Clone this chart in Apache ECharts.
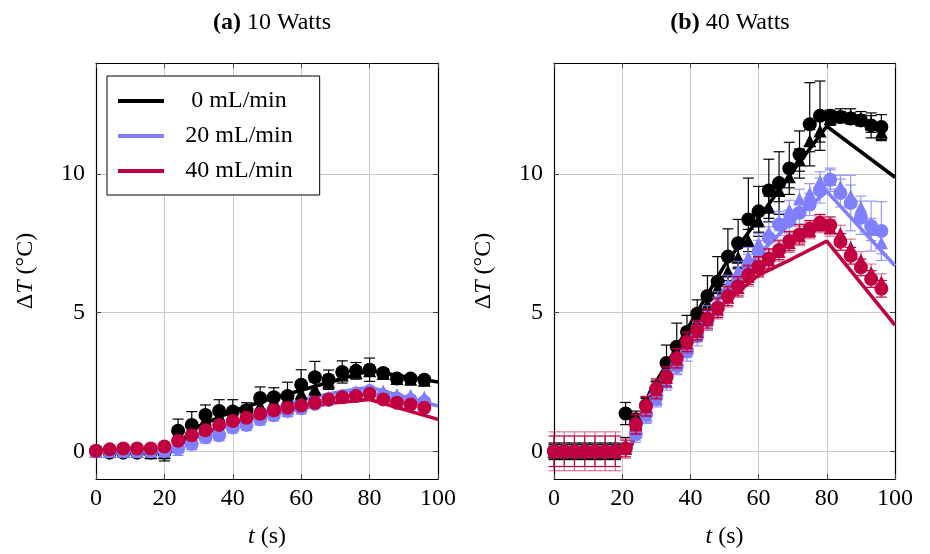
<!DOCTYPE html>
<html><head><meta charset="utf-8">
<script src="https://cdn.jsdelivr.net/npm/echarts@6/dist/echarts.min.js"></script>
<style>html,body{margin:0;padding:0;background:#fff}#c{width:930px;height:554px}</style>
</head><body><div id="c"></div><script>
// ---------- data ----------
const flowNames = ['0 mL/min', '20 mL/min', '40 mL/min'];
const xTicks = [0, 20, 40, 60, 80, 100];
const yTicks = [0, 5, 10];

// Panel (a) 10 Watts, measurements every 4 s
const tA = [0,4,8,12,16,20,24,28,32,36,40,44,48,52,56,60,64,68,72,76,80,84,88,92,96];
const a0Circ = [0,-0.05,-0.05,-0.05,-0.05,-0.05,0.74,0.95,1.31,1.45,1.43,1.48,1.92,1.95,1.99,2.40,2.67,2.58,2.86,2.90,2.94,2.82,2.62,2.62,2.58];
const a0CircErr = [0.1,0.1,0.1,0.1,0.1,0.3,0.42,0.48,0.36,0.41,0.43,0.27,0.4,0.34,0.5,0.54,0.57,0.35,0.4,0.3,0.42,0.15,0.12,0.12,0.12];
const a0Tri = [0,0,0,0,-0.05,-0.05,0.6,0.85,1.15,1.3,1.38,1.45,1.65,1.8,1.92,2.1,2.25,2.5,2.75,2.85,2.9,2.8,2.62,2.6,2.56];
const a0TriErr = [0.1,0.1,0.1,0.1,0.1,0.1,0.2,0.2,0.2,0.2,0.2,0.2,0.2,0.2,0.2,0.25,0.25,0.25,0.2,0.2,0.2,0.15,0.12,0.12,0.12];
const a1Circ = [0,0,0,0,0,0.02,0.1,0.26,0.5,0.58,0.86,0.95,1.15,1.3,1.45,1.55,1.7,1.85,1.98,2.08,2.17,2.0,1.9,1.85,1.78];
const a1CircErr = [0.08,0.08,0.08,0.08,0.08,0.1,0.25,0.2,0.2,0.2,0.2,0.2,0.2,0.2,0.2,0.2,0.15,0.15,0.15,0.15,0.15,0.15,0.15,0.15,0.15];
const a1Tri = [0,0,0,0,0,0,0.15,0.4,0.6,0.75,0.95,1.1,1.25,1.4,1.55,1.7,1.8,1.95,2.05,2.15,2.25,2.17,2.05,2.02,1.95];
const a2Circ = [0.02,0.07,0.1,0.1,0.1,0.17,0.38,0.58,0.76,0.95,1.09,1.21,1.35,1.48,1.57,1.65,1.75,1.87,1.95,1.99,2.07,1.87,1.75,1.69,1.57];
const a2CircErr = [0.08,0.08,0.08,0.08,0.08,0.08,0.08,0.08,0.08,0.08,0.08,0.08,0.08,0.08,0.08,0.08,0.08,0.08,0.08,0.08,0.08,0.08,0.08,0.08,0.08];
// model lines (a)
const lineAt = [0,22,25,30,40,50,60,70,80,100];
const a0Line = [0,0,0.4,0.9,1.45,1.85,2.2,2.55,2.9,2.5];
const a1Line = [0,0,0.25,0.55,1.0,1.45,1.85,2.12,2.31,1.63];
const a2Line = [0,0,0.3,0.6,1.0,1.32,1.55,1.75,1.87,1.15];

// Panel (b) 40 Watts, measurements every 3 s
const tB = [0,3,6,9,12,15,18,21,24,27,30,33,36,39,42,45,48,51,54,57,60,63,66,69,72,75,78,81,84,87,90,93,96];
const b0Circ = [0,0,0,0,0,0,0,1.36,1.15,1.65,2.23,3.18,3.77,4.3,4.96,5.6,6.12,7.02,7.5,8.36,8.65,9.4,9.67,10.2,10.7,11.79,12.1,12.1,12.05,12.0,11.93,11.75,11.69];
const b0CircErr = [0.3,0.3,0.3,0.3,0.3,0.3,0.3,0.4,0.3,0.3,0.3,0.65,0.85,0.6,0.5,0.73,0.9,1.0,0.86,1.49,0.9,1.13,1.13,0.94,0.85,1.5,1.25,0.2,0.2,0.2,0.2,0.45,0.45];
const b0Tri = [0,0,0,0,0,0,0,0.2,1.0,1.6,2.2,2.9,3.5,4.1,4.7,5.3,5.9,6.5,7.0,7.6,8.3,8.8,9.4,9.9,10.5,11.2,11.55,12.0,12.1,12.1,12.0,11.8,11.5];
const b0TriErr = [0.25,0.25,0.25,0.25,0.25,0.25,0.25,0.3,0.3,0.3,0.3,0.3,0.3,0.35,0.35,0.35,0.35,0.35,0.4,0.4,0.4,0.4,0.4,0.4,0.4,0.4,0.4,0.25,0.25,0.25,0.25,0.3,0.3];
const b1Circ = [0,0,0,0,0,0,0,0.1,0.62,1.33,1.95,2.64,3.06,3.6,4.15,4.7,5.2,5.7,6.2,6.7,7.2,7.7,8.18,8.3,8.6,8.9,9.4,9.79,9.31,8.95,8.42,8.12,7.94];
const b1CircErr = [0.2,0.2,0.2,0.2,0.2,0.2,0.2,0.2,0.3,0.3,0.3,0.3,0.3,0.35,0.35,0.35,0.35,0.35,0.35,0.4,0.4,0.4,0.4,0.4,0.4,0.4,0.45,0.42,0.5,1.0,0.6,0.9,1.06];
const b1Tri = [0,0,0,0,0,0,0,0.1,0.7,1.3,1.9,2.5,3.1,3.7,4.3,4.9,5.4,6.0,6.5,7.0,7.5,7.9,8.3,8.7,9.1,9.3,9.73,9.8,9.55,9.2,8.8,8.0,7.52];
const b1TriErr = [0.2,0.2,0.2,0.2,0.2,0.2,0.2,0.2,0.3,0.3,0.3,0.3,0.3,0.3,0.35,0.35,0.35,0.35,0.35,0.35,0.35,0.35,0.35,0.35,0.35,0.35,0.35,0.35,0.4,0.4,0.4,0.4,0.4];
const b2Circ = [0,0,0,0,0,0,0,0.1,0.98,1.63,2.26,2.7,3.36,3.95,4.37,4.79,5.17,5.6,5.95,6.36,6.67,6.95,7.26,7.58,7.82,8.02,8.24,8.15,7.55,7.05,6.63,6.21,5.86];
const b2CircErr = [0.55,0.55,0.55,0.55,0.55,0.55,0.55,0.3,0.35,0.35,0.35,0.35,0.35,0.35,0.35,0.35,0.35,0.35,0.35,0.35,0.35,0.35,0.35,0.35,0.35,0.3,0.3,0.3,0.3,0.3,0.3,0.3,0.3];
const b2Tri = [0,0,0,0,0,0,0,0.1,0.95,1.6,2.22,2.66,3.32,3.9,4.32,4.74,5.12,5.55,5.9,6.3,6.62,6.9,7.2,7.52,7.76,7.96,8.18,8.05,7.85,7.35,6.9,6.45,6.1];
const b2TriErr = [0.7,0.7,0.7,0.7,0.7,0.7,0.7,0.35,0.35,0.35,0.35,0.35,0.35,0.35,0.35,0.35,0.35,0.35,0.35,0.35,0.35,0.35,0.35,0.35,0.35,0.3,0.3,0.3,0.3,0.3,0.3,0.3,0.3];
// model lines (b)
const lineBt = [0,22,25,28,35,40,50,60,70,80,100];
const b0Line = [0,0,1.0,2.1,3.55,4.6,6.7,8.4,10.1,11.72,9.88];
const b1Line = [0,0,1.0,2.0,3.3,4.2,5.8,7.1,8.3,9.37,6.69];
const b2Line = [0,0,1.0,1.9,3.2,4.1,5.35,6.35,6.95,7.58,4.55];

// ---------- style ----------
const FONT = 'Liberation Serif';
const colors = ['#000000', '#8080ff', '#c0003f'];

const chart = echarts.init(document.getElementById('c'), null, {renderer: 'canvas'});

function zip(t, v) { return t.map((ti, i) => [ti, v[i]]); }

function lineSeries(name, t, v, color, ax) {
  return {name, type: 'line', xAxisIndex: ax, yAxisIndex: ax, data: zip(t, v),
    showSymbol: false, symbol: 'none', lineStyle: {color, width: 3.6}, itemStyle: {color},
    z: 3, silent: true};
}
function markSeries(name, t, v, color, symbol, size, ax, z) {
  return {name, type: 'scatter', xAxisIndex: ax, yAxisIndex: ax, data: zip(t, v),
    symbol, symbolSize: size, itemStyle: {color, opacity: 1}, z, silent: true};
}
function errSeries(name, t, v, e, color, ax, opacity, z) {
  return {name, type: 'custom', xAxisIndex: ax, yAxisIndex: ax, z, silent: true,
    data: t.map((ti, i) => [ti, v[i], e[i]]),
    encode: {x: 0, y: 1},
    renderItem: function (params, api) {
      const x = api.value(0), y = api.value(1), d = api.value(2);
      const top = api.coord([x, y + d]);
      const bot = api.coord([x, y - d]);
      const w = 5.5;
      const st = {stroke: color, lineWidth: 1.2, opacity};
      return {type: 'group', children: [
        {type: 'line', shape: {x1: top[0], y1: top[1], x2: bot[0], y2: bot[1]}, style: st},
        {type: 'line', shape: {x1: top[0] - w, y1: top[1], x2: top[0] + w, y2: top[1]}, style: st},
        {type: 'line', shape: {x1: bot[0] - w, y1: bot[1], x2: bot[0] + w, y2: bot[1]}, style: st}
      ]};
    }
  };
}

const series = [];
// panel (a) -> axis index 0
series.push(lineSeries(flowNames[0], lineAt, a0Line, colors[0], 0));
series.push(errSeries('a0te', tA, a0Tri, a0TriErr, colors[0], 0, 1, 4));
series.push(markSeries('a0t', tA, a0Tri, colors[0], 'triangle', 13, 0, 5));
series.push(errSeries('a0ce', tA, a0Circ, a0CircErr, colors[0], 0, 1, 4));
series.push(markSeries('a0c', tA, a0Circ, colors[0], 'circle', 14, 0, 5));
series.push(lineSeries(flowNames[1], lineAt, a1Line, colors[1], 0));
series.push(errSeries('a1ce', tA, a1Circ, a1CircErr, colors[1], 0, 1, 6));
series.push(markSeries('a1c', tA, a1Circ, colors[1], 'circle', 14, 0, 7));
series.push(markSeries('a1t', tA, a1Tri, colors[1], 'triangle', 13, 0, 7));
series.push(lineSeries(flowNames[2], lineAt, a2Line, colors[2], 0));
series.push(errSeries('a2ce', tA, a2Circ, a2CircErr, colors[2], 0, 1, 8));
series.push(markSeries('a2c', tA, a2Circ, colors[2], 'circle', 14, 0, 9));
// panel (b) -> axis index 2
series.push(lineSeries(flowNames[0], lineBt, b0Line, colors[0], 2));
series.push(errSeries('b0te', tB, b0Tri, b0TriErr, colors[0], 2, 1, 4));
series.push(markSeries('b0t', tB, b0Tri, colors[0], 'triangle', 13, 2, 5));
series.push(errSeries('b0ce', tB, b0Circ, b0CircErr, colors[0], 2, 1, 4));
series.push(markSeries('b0c', tB, b0Circ, colors[0], 'circle', 14, 2, 5));
series.push(lineSeries(flowNames[1], lineBt, b1Line, colors[1], 2));
series.push(errSeries('b1te', tB, b1Tri, b1TriErr, colors[1], 2, 0.8, 6));
series.push(markSeries('b1t', tB, b1Tri, colors[1], 'triangle', 13, 2, 7));
series.push(errSeries('b1ce', tB, b1Circ, b1CircErr, colors[1], 2, 0.8, 6));
series.push(markSeries('b1c', tB, b1Circ, colors[1], 'circle', 14, 2, 7));
series.push(lineSeries(flowNames[2], lineBt, b2Line, colors[2], 2));
series.push(errSeries('b2te', tB, b2Tri, b2TriErr, colors[2], 2, 0.5, 8));
series.push(markSeries('b2t', tB, b2Tri, colors[2], 'triangle', 13, 2, 9));
series.push(errSeries('b2ce', tB, b2Circ, b2CircErr, colors[2], 2, 1, 8));
series.push(markSeries('b2c', tB, b2Circ, colors[2], 'circle', 14, 2, 9));

const tickStyle = {show: true, inside: true, length: 5, lineStyle: {color: '#444', width: 1}};
const axisLine = {show: true, onZero: false, lineStyle: {color: '#000', width: 1.2}};
const splitLine = {show: true, lineStyle: {color: '#c8c8c8', width: 1}};
const labelStyle = {fontFamily: FONT, fontSize: 24, color: '#000'};
const nameRich = {
  n: {fontFamily: FONT, fontSize: 24, color: '#000'},
  i: {fontFamily: FONT, fontSize: 24, fontStyle: 'italic', color: '#000'}
};

function xAxes(gi) {
  return [
    {type: 'value', gridIndex: gi, position: 'bottom', min: 0, max: 100, interval: 20,
     axisLine, axisTick: tickStyle, splitLine,
     axisLabel: Object.assign({margin: 8}, labelStyle),
     name: '{i|t}{n| (s)}', nameLocation: 'middle', nameGap: 46,
     nameTextStyle: {rich: nameRich}},
    {type: 'value', gridIndex: gi, position: 'top', min: 0, max: 100, interval: 20,
     axisLine, axisTick: tickStyle, splitLine: {show: false}, axisLabel: {show: false}}
  ];
}
function yAxes(gi) {
  return [
    {type: 'value', gridIndex: gi, position: 'left', min: -1, max: 14,
     axisLine, axisTick: Object.assign({customValues: yTicks}, tickStyle), splitLine,
     axisLabel: Object.assign({margin: 11, customValues: yTicks}, labelStyle),
     name: '{n|Δ}{i|T}{n| (°C)}', nameLocation: 'middle', nameGap: 58,
     nameTextStyle: {rich: nameRich}},
    {type: 'value', gridIndex: gi, position: 'right', min: -1, max: 14,
     axisLine, axisTick: Object.assign({customValues: yTicks}, tickStyle),
     splitLine: {show: false}, axisLabel: {show: false}}
  ];
}

const option = {
  animation: false,
  backgroundColor: '#fff',
  title: [
    {text: '{b|(a)} 10 Watts', left: 267, top: 6, textAlign: 'center',
     textStyle: {fontFamily: FONT, fontSize: 24, fontWeight: 'normal', color: '#000',
       rich: {b: {fontFamily: FONT, fontSize: 24, fontWeight: 'bold', color: '#000'}}}},
    {text: '{b|(b)} 40 Watts', left: 725, top: 6, textAlign: 'center',
     textStyle: {fontFamily: FONT, fontSize: 24, fontWeight: 'normal', color: '#000',
       rich: {b: {fontFamily: FONT, fontSize: 24, fontWeight: 'bold', color: '#000'}}}}
  ],
  legend: {
    data: flowNames, orient: 'vertical', left: 107, top: 76,
    backgroundColor: '#fff', borderColor: '#000', borderWidth: 1, borderRadius: 0,
    padding: [13, 27, 12, 11], itemGap: 11, itemWidth: 46, itemHeight: 4, icon: 'rect',
    selectedMode: false,
    formatter: n => '{a|' + n + '}',
    textStyle: {fontFamily: FONT, fontSize: 24, color: '#000',
      rich: {a: {fontFamily: FONT, fontSize: 24, width: 140, align: 'center', color: '#000'}}}
  },
  grid: [
    {left: 96, top: 63, width: 342, height: 419, show: false},
    {left: 554, top: 63, width: 341, height: 419, show: false}
  ],
  xAxis: xAxes(0).concat(xAxes(1)),
  yAxis: yAxes(0).concat(yAxes(1)),
  series
};
chart.setOption(option);
</script></body></html>
